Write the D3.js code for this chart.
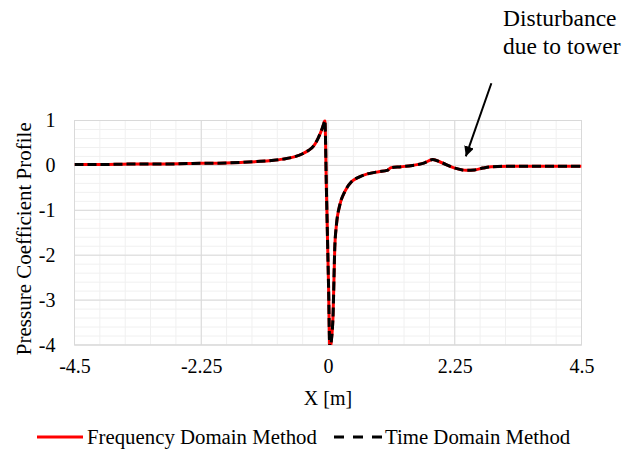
<!DOCTYPE html>
<html>
<head>
<meta charset="utf-8">
<script src="https://cdn.jsdelivr.net/npm/d3@7"></script>
<style>
body { margin: 0; background: #fff; }
text { font-family: "Liberation Serif", "Times New Roman", serif; fill: #000; }
</style>
</head>
<body>
<script>
// pressure coefficient along X, both methods
var xVals = [-4.5, -4.0, -3.5, -3.0, -2.5, -2.25, -2.0, -1.5, -1.2, -1.0, -0.8, -0.6, -0.45, -0.35, -0.25, -0.17, -0.11, -0.075, -0.055,
	-0.03, -0.01, 0.01, 0.033, 0.06, 0.09, 0.12, 0.15, 0.21, 0.30, 0.42, 0.55, 0.7, 0.9, 1.05, 1.12, 1.3, 1.5, 1.7, 1.86,
	2.0, 2.25, 2.45, 2.6, 2.75, 2.9, 3.2, 3.6, 4.0, 4.5];
var freqVals = [0.02, 0.02, 0.03, 0.03, 0.04, 0.05, 0.05, 0.07, 0.09, 0.11, 0.14, 0.19, 0.26, 0.33, 0.44, 0.62, 0.8, 0.93, 1.0,
	-0.42, -1.56, -2.7, -4.1, -3.9, -3.33, -1.84, -1.32, -0.88, -0.58, -0.36, -0.26, -0.19, -0.14, -0.11, -0.05, -0.03, 0.0, 0.05, 0.13,
	0.07, -0.06, -0.11, -0.10, -0.06, -0.03, -0.02, -0.02, -0.02, -0.02];
var timeVals = [0.02, 0.02, 0.03, 0.03, 0.04, 0.05, 0.05, 0.07, 0.09, 0.11, 0.14, 0.19, 0.26, 0.33, 0.44, 0.62, 0.8, 0.93, 1.0,
	-0.42, -1.56, -2.7, -4.1, -3.9, -3.33, -1.84, -1.32, -0.88, -0.58, -0.36, -0.26, -0.19, -0.14, -0.11, -0.05, -0.03, 0.0, 0.05, 0.13,
	0.07, -0.06, -0.11, -0.10, -0.06, -0.03, -0.02, -0.02, -0.02, -0.02];
var xTicks = [-4.5, -2.25, 0, 2.25, 4.5];
var xTickLabels = ["-4.5", "-2.25", "0", "2.25", "4.5"];
var yTicks = [1, 0, -1, -2, -3, -4];
var yTickLabels = ["1", "0", "-1", "-2", "-3", "-4"];
var seriesNames = ["Frequency Domain Method", "Time Domain Method"];

var width = 629, height = 465;
var mLeft = 74.5, mRight = 581.5, mTop = 120.5, mBottom = 345;
var fs = 20;

var svg = d3.select("body").append("svg")
	.attr("width", width)
	.attr("height", height);

var x = d3.scaleLinear().domain([-4.5, 4.5]).range([mLeft, mRight]);
var y = d3.scaleLinear().domain([-4, 1]).range([mBottom, mTop]);

// minor grid
var minorX = d3.range(-4.5, 4.5001, 0.45);
var minorY = d3.range(-4, 1.0001, 0.2);
svg.append("g").selectAll("line").data(minorX).join("line")
	.attr("x1", d => x(d)).attr("x2", d => x(d))
	.attr("y1", mTop).attr("y2", mBottom)
	.attr("stroke", "#f0f0f0").attr("stroke-width", 1);
svg.append("g").selectAll("line").data(minorY).join("line")
	.attr("x1", mLeft).attr("x2", mRight)
	.attr("y1", d => y(d)).attr("y2", d => y(d))
	.attr("stroke", "#f0f0f0").attr("stroke-width", 1);

// major grid
svg.append("g").selectAll("line").data(xTicks).join("line")
	.attr("x1", d => x(d)).attr("x2", d => x(d))
	.attr("y1", mTop).attr("y2", mBottom)
	.attr("stroke", "#d9d9d9").attr("stroke-width", 1);
svg.append("g").selectAll("line").data(yTicks).join("line")
	.attr("x1", mLeft).attr("x2", mRight)
	.attr("y1", d => y(d)).attr("y2", d => y(d))
	.attr("stroke", "#d9d9d9").attr("stroke-width", 1);

svg.append("rect")
	.attr("x", mLeft).attr("y", mTop)
	.attr("width", mRight - mLeft).attr("height", mBottom - mTop)
	.attr("fill", "none").attr("stroke", "#d9d9d9");

// tick labels
var xAxis = svg.append("g")
	.attr("transform", "translate(0," + mBottom + ")")
	.call(d3.axisBottom(x).tickValues(xTicks).tickSize(0).tickPadding(14)
		.tickFormat((d, i) => xTickLabels[i]));
xAxis.select(".domain").remove();
xAxis.selectAll("text").attr("font-size", fs).attr("font-family", null);

var yAxis = svg.append("g")
	.attr("transform", "translate(" + (mLeft - 19) + ",0)")
	.call(d3.axisLeft(y).tickValues(yTicks).tickSize(0).tickPadding(0)
		.tickFormat((d, i) => yTickLabels[i]));
yAxis.select(".domain").remove();
yAxis.selectAll("text").attr("font-size", fs).attr("font-family", null);

svg.append("text")
	.attr("x", (mLeft + mRight) / 2)
	.attr("y", 405)
	.attr("text-anchor", "middle")
	.attr("font-size", fs)
	.text("X [m]");

svg.append("text")
	.attr("transform", "translate(31," + ((mTop + mBottom) / 2 + 6) + ") rotate(-90)")
	.attr("text-anchor", "middle")
	.attr("font-size", 21)
	.text("Pressure Coefficient Profile");

// lines
svg.append("clipPath").attr("id", "plotclip")
	.append("rect").attr("x", mLeft).attr("y", mTop - 1)
	.attr("width", mRight - mLeft).attr("height", mBottom - mTop + 1);

var line = d3.line()
	.x(d => x(d[0]))
	.y(d => y(d[1]))
	.curve(d3.curveMonotoneX);

var plot = svg.append("g").attr("clip-path", "url(#plotclip)");
plot.append("path")
	.attr("d", line(xVals.map((v, i) => [v, freqVals[i]])))
	.attr("fill", "none")
	.attr("stroke", "#ff0000")
	.attr("stroke-width", 3);
plot.append("path")
	.attr("d", line(xVals.map((v, i) => [v, timeVals[i]])))
	.attr("fill", "none")
	.attr("stroke", "#000")
	.attr("stroke-width", 3)
	.attr("stroke-dasharray", "9,4");

// annotation
svg.append("defs").append("marker")
	.attr("id", "arrowhead")
	.attr("viewBox", "0 0 10 10")
	.attr("refX", 10).attr("refY", 5)
	.attr("markerWidth", 5).attr("markerHeight", 5)
	.attr("orient", "auto")
	.append("path")
	.attr("d", "M0,0 L10,5 L0,10 Z")
	.attr("fill", "#000");

svg.append("line")
	.attr("x1", x(2.9)).attr("y1", y(1.83))
	.attr("x2", x(2.446)).attr("y2", y(0.2))
	.attr("stroke", "#000")
	.attr("stroke-width", 2)
	.attr("marker-end", "url(#arrowhead)");

svg.append("text")
	.attr("x", 503).attr("y", 26)
	.attr("font-size", 23.5)
	.text("Disturbance");
svg.append("text")
	.attr("x", 503).attr("y", 54)
	.attr("font-size", 23.5)
	.text("due to tower");

// legend
var legY = 437;
var leg = svg.append("g");
leg.append("line")
	.attr("x1", 37).attr("x2", 83).attr("y1", legY).attr("y2", legY)
	.attr("stroke", "#ff0000").attr("stroke-width", 3);
leg.append("text")
	.attr("x", 87).attr("y", legY + 7)
	.attr("font-size", 20.8)
	.text(seriesNames[0]);
leg.append("line")
	.attr("x1", 334).attr("x2", 382).attr("y1", legY).attr("y2", legY)
	.attr("stroke", "#000").attr("stroke-width", 3)
	.attr("stroke-dasharray", "10,9");
leg.append("text")
	.attr("x", 385).attr("y", legY + 7)
	.attr("font-size", 20.8)
	.text(seriesNames[1]);
</script>
</body>
</html>
